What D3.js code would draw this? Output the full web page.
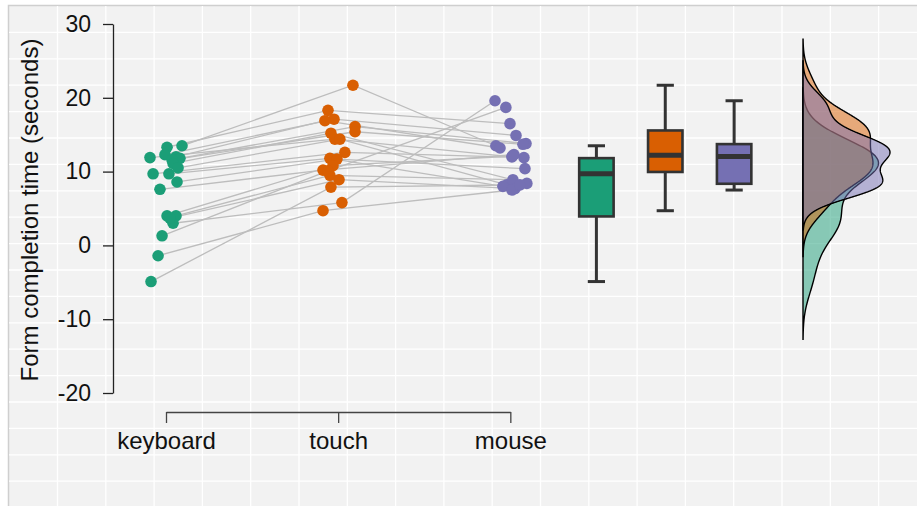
<!DOCTYPE html>
<html>
<head>
<meta charset="utf-8">
<script src="https://cdn.jsdelivr.net/npm/d3@7"></script>
<style>
  body { margin:0; background:#ffffff; }
  svg text { font-family: "Liberation Sans", Arial, sans-serif; fill:#111111; }
</style>
</head>
<body>
<script>
// conditions and colours (Dark2)
var conditions = ["keyboard", "touch", "mouse"];
var colours = ["#1b9e77", "#d95f02", "#7570b3"];

// completion times per participant (same order in each array = same person)
var keyboard = [13.5, 13.3, 12.3, 12.0, 11.9, 11.8, 11.6, 11.1, 10.5, 9.7,
                9.7, 8.6, 7.6, 4.0, 4.0, 3.0, 3.7, 1.3, -1.4, -4.9];
var touch    = [21.7, 18.3, 17.1, 16.9, 14.4, 16.1, 15.4, 15.2, 14.4, 12.6,
                11.8, 11.7, 10.2, 10.8, 9.5, 5.8, 8.9, 10.1, 4.7, 7.9];
var mouse    = [13.5, 16.5, 14.9, 13.2, 12.0, 13.8, 13.7, 8.4, 8.2, 11.9,
                8.0, 10.4, 12.3, 12.1, 8.9, 19.6, 7.7, 18.7, 7.5, 8.2];

// horizontal jitter of each point, in category units
var jitterKeyboard = [0.093, 0.006, -0.006, 0.058, -0.093, 0.081, 0.035, 0.041, 0.070, -0.075,
                      0.017, 0.064, -0.035, 0.006, 0.058, 0.041, 0.023, -0.023, -0.046, -0.087];
var jitterTouch    = [0.086, -0.059, -0.024, -0.077, -0.019, 0.098, 0.098, -0.042, 0.010, 0.039,
                      -0.048, -0.007, -0.088, -0.030, -0.048, 0.022, 0.005, -0.059, -0.088, -0.042];
var jitterMouse    = [-0.084, -0.002, 0.033, -0.060, 0.009, 0.091, 0.073, 0.096, -0.020, 0.079,
                      -0.043, 0.085, 0.021, 0.012, 0.015, -0.089, 0.027, -0.026, 0.009, 0.056];

var yTicks = [-20, -10, 0, 10, 20, 30];

var series = [keyboard, touch, mouse];
var jitters = [jitterKeyboard, jitterTouch, jitterMouse];

var W = 917, H = 506;
var svg = d3.select("body").append("svg")
    .attr("width", W)
    .attr("height", H);

// panel background with white grid
svg.append("rect")
    .attr("x", 8.5).attr("y", 5.5)
    .attr("width", W).attr("height", H)
    .attr("fill", "#f2f2f2")
    .attr("stroke", "#cfcfcf")
    .attr("stroke-width", 1.5);

var grid = svg.append("g").attr("stroke", "#ffffff").attr("stroke-width", 1.3);
d3.range(1, 19).forEach(function(k) {
  grid.append("line").attr("x1", 9.2 + 48.3 * k).attr("x2", 9.2 + 48.3 * k)
      .attr("y1", 6).attr("y2", H);
});
d3.range(1, 19).forEach(function(k) {
  grid.append("line").attr("y1", 6 + 26.4 * k).attr("y2", 6 + 26.4 * k)
      .attr("x1", 9).attr("x2", W);
});

// scales
var x = d3.scaleLinear().domain([1, 4.7]).range([166, 803]);
var y = d3.scaleLinear().domain([-20, 30]).range([393, 24]);

// y axis
var yAxis = svg.append("g")
    .attr("transform", "translate(113,0)")
    .call(d3.axisLeft(y).tickValues(yTicks).tickSize(10).tickSizeOuter(0).tickPadding(12)
      .tickFormat(function(d) { return String(d); }));
yAxis.select(".domain").attr("stroke", "#222").attr("stroke-width", 1.3);
yAxis.selectAll(".tick line").attr("stroke", "#222").attr("stroke-width", 1.3);
yAxis.selectAll("text").style("font-size", "23px").attr("fill", "#111");

svg.append("text")
    .attr("transform", "translate(38," + 210 + ") rotate(-90)")
    .attr("text-anchor", "middle")
    .style("font-size", "24px")
    .text("Form completion time (seconds)");

// x axis bracket, only under the three point columns
var xAxisScale = d3.scaleLinear().domain([1, 3]).range([x(1), x(3)]);
var xAxis = svg.append("g")
    .attr("transform", "translate(0,412)")
    .call(d3.axisBottom(xAxisScale).tickValues([1, 2, 3])
      .tickFormat(function(d) { return conditions[d - 1]; })
      .tickSize(11).tickSizeOuter(0).tickPadding(9));
xAxis.select(".domain").attr("stroke", "#444").attr("stroke-width", 1.3);
xAxis.selectAll(".tick line").attr("stroke", "#444").attr("stroke-width", 1.3);
xAxis.selectAll("text").style("font-size", "24px").attr("fill", "#111");

// connecting lines (participant across conditions)
var lineGen = d3.line()
    .x(function(d) { return x(d.pos); })
    .y(function(d) { return y(d.value); });

var people = d3.range(keyboard.length).map(function(i) {
  return series.map(function(s, g) {
    return { pos: g + 1 + jitters[g][i], value: s[i], group: g };
  });
});

svg.append("g").selectAll("path")
  .data(people).enter().append("path")
    .attr("d", lineGen)
    .attr("fill", "none")
    .attr("stroke", "#bdbdbd")
    .attr("stroke-width", 1.3);

// points
svg.append("g").selectAll("circle")
  .data(d3.merge(people)).enter().append("circle")
    .attr("cx", function(d) { return x(d.pos); })
    .attr("cy", function(d) { return y(d.value); })
    .attr("r", 5.8)
    .attr("fill", function(d) { return colours[d.group]; });

// box plots
var boxPos = [3.5, 3.9, 4.3];
var boxHalf = 0.1, capHalf = 0.05;
series.forEach(function(s, g) {
  var v = s.slice().sort(d3.ascending);
  var q1 = d3.quantileSorted(v, 0.25),
      med = d3.quantileSorted(v, 0.5),
      q3 = d3.quantileSorted(v, 0.75),
      iqr = q3 - q1;
  var lo = d3.min(v.filter(function(d) { return d >= q1 - 1.5 * iqr; })),
      hi = d3.max(v.filter(function(d) { return d <= q3 + 1.5 * iqr; }));
  var bx = svg.append("g").attr("stroke", "#333333");
  var cx = x(boxPos[g]);
  bx.append("line").attr("x1", cx).attr("x2", cx).attr("y1", y(hi)).attr("y2", y(q3)).attr("stroke-width", 3);
  bx.append("line").attr("x1", cx).attr("x2", cx).attr("y1", y(q1)).attr("y2", y(lo)).attr("stroke-width", 3);
  [lo, hi].forEach(function(w) {
    bx.append("line")
      .attr("x1", x(boxPos[g] - capHalf)).attr("x2", x(boxPos[g] + capHalf))
      .attr("y1", y(w)).attr("y2", y(w)).attr("stroke-width", 3);
  });
  bx.append("rect")
    .attr("x", x(boxPos[g] - boxHalf)).attr("width", x(boxPos[g] + boxHalf) - x(boxPos[g] - boxHalf))
    .attr("y", y(q3)).attr("height", y(q1) - y(q3))
    .attr("fill", colours[g]).attr("stroke-width", 2.6);
  bx.append("line")
    .attr("x1", x(boxPos[g] - boxHalf)).attr("x2", x(boxPos[g] + boxHalf))
    .attr("y1", y(med)).attr("y2", y(med)).attr("stroke-width", 5);
});

// half-violin densities (gaussian kernel, bw.nrd0, cut = 3)
function kde(values) {
  var s = values.slice().sort(d3.ascending), n = s.length;
  var iqr = d3.quantileSorted(s, 0.75) - d3.quantileSorted(s, 0.25);
  var bw = 0.9 * Math.min(d3.deviation(s), iqr / 1.34) * Math.pow(n, -0.2);
  var lo = s[0] - 3 * bw, hi = s[n - 1] + 3 * bw;
  return d3.range(512).map(function(i) {
    var t = lo + (hi - lo) * i / 511;
    var d = d3.mean(s, function(v) {
      var u = (t - v) / bw;
      return Math.exp(-u * u / 2) / Math.sqrt(2 * Math.PI);
    }) / bw;
    return [t, d];
  });
}
var densities = series.map(kde);
var maxD = d3.max(densities, function(ds) { return d3.max(ds, function(d) { return d[1]; }); });
var densPos = 4.7;
var w = d3.scaleLinear().domain([0, maxD]).range([x(densPos), x(densPos) + 87]);

var area = d3.area()
    .y(function(d) { return y(d[0]); })
    .x0(x(densPos))
    .x1(function(d) { return w(d[1]); });

densities.forEach(function(ds, g) {
  svg.append("path")
    .attr("d", area(ds) + "Z")
    .attr("fill", colours[g])
    .attr("fill-opacity", 0.5)
    .attr("stroke", "#000")
    .attr("stroke-width", 1.4);
});
</script>
</body>
</html>
